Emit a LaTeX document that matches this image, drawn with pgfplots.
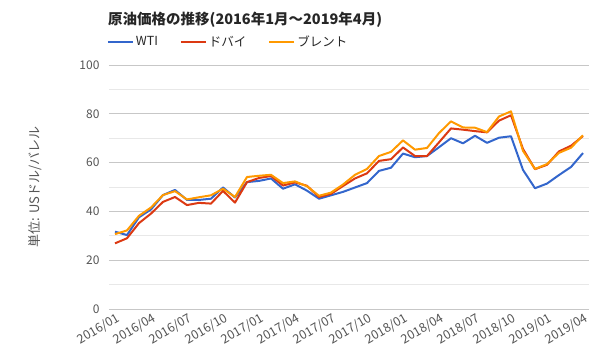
\documentclass[border=0pt]{standalone}
\usepackage{pgfplots}
\pgfplotsset{compat=1.18}
\usepackage{pgfplotstable}
\usepackage{fontspec}
\setmainfont{Noto Sans CJK JP}
\definecolor{cBlue}{HTML}{3366CC}
\definecolor{cRed}{HTML}{DC3912}
\definecolor{cOrange}{HTML}{FF9900}
\definecolor{tgray}{HTML}{555555}

\pgfplotstableread{
i wti dubai brent
0 31.7 26.9 30.7
1 30.3 29.0 32.2
2 37.6 35.2 38.2
3 40.8 39.1 41.6
4 46.7 43.9 46.7
5 48.8 45.9 48.3
6 44.7 42.6 44.9
7 44.7 43.5 45.8
8 45.2 43.2 46.6
9 49.8 48.4 49.3
10 45.7 43.6 45.9
11 52.0 52.0 54.1
12 52.5 53.7 54.6
13 53.5 54.5 55.0
14 49.3 50.6 51.6
15 51.1 51.9 52.3
16 48.5 50.5 50.3
17 45.2 45.9 46.4
18 46.6 47.2 47.7
19 48.0 50.4 51.0
20 49.8 53.5 55.0
21 51.6 55.6 57.4
22 56.6 60.7 62.7
23 57.9 61.4 64.4
24 63.7 66.2 69.1
25 62.2 62.7 65.3
26 62.7 62.7 66.0
27 66.3 68.3 72.1
28 70.0 74.0 76.9
29 67.9 73.5 74.4
30 71.0 72.9 74.3
31 68.1 72.4 72.5
32 70.2 77.2 78.9
33 70.8 79.4 81.0
34 57.0 65.6 64.8
35 49.5 57.3 57.4
36 51.4 59.1 59.4
37 54.9 64.6 64.0
38 58.2 66.9 66.1
39 63.9 70.9 71.2
}\oil

\begin{document}
\begin{tikzpicture}
\path[use as bounding box] (0,0) rectangle (600pt,360pt);
\node[anchor=west, font=\bfseries\fontsize{14.5}{17}\selectfont, text=black!85, inner sep=0pt] at (108pt,340pt) {原油価格の推移(2016年1月～2019年4月)};
\begin{axis}[
  at={(109pt,51pt)}, anchor=south west,
  scale only axis, width=480pt, height=244pt,
  xmin=-0.5, xmax=39.5, ymin=0, ymax=100,
  axis lines*=left, axis line style={draw=none},
  tick style={draw=none},
  ytick={20,40,60,80,100},
  minor ytick={10,30,50,70,90},
  extra y ticks={0},
  extra y tick style={grid style={draw=black!80, line width=1.2pt}},
  ymajorgrids, yminorgrids,
  major grid style={draw=black!22, line width=0.9pt},
  minor grid style={draw=black!9, line width=0.9pt},
  xtick={0,3,...,39},
  xticklabels={2016/01,2016/04,2016/07,2016/10,2017/01,2017/04,2017/07,2017/10,2018/01,2018/04,2018/07,2018/10,2019/01,2019/04},
  xticklabel style={rotate=30, anchor=north east, font=\fontsize{12.5}{14}\selectfont, text=tgray, inner sep=1pt, yshift=-2pt},
  yticklabel style={font=\fontsize{12}{14}\selectfont, text=tgray, xshift=-6pt},
  /pgf/number format/assume math mode=true,
  ylabel={単位: USドル/バレル},
  ylabel style={at={(axis description cs:-0.154,0.5)}, anchor=center, rotate=0, font=\fontsize{13}{15}\selectfont, text=tgray},
  legend style={draw=none, fill=none, legend columns=3, at={(rel axis cs:-0.005,1.094)}, anchor=west,
    font=\fontsize{12.5}{14}\selectfont, text=black!85, inner sep=0pt,
    /tikz/every even column/.append style={column sep=20pt}},
  legend image code/.code={\draw[#1, line width=2pt] (0pt,0pt) -- (25pt,0pt);},
  every axis plot/.append style={line width=2pt, line join=round, no markers},
]
\addplot[cBlue] table[x=i, y=wti] {\oil};
\addlegendentry{WTI}
\addplot[cRed] table[x=i, y=dubai] {\oil};
\addlegendentry{ドバイ}
\addplot[cOrange] table[x=i, y=brent] {\oil};
\addlegendentry{ブレント}
\end{axis}
\end{tikzpicture}
\end{document}
